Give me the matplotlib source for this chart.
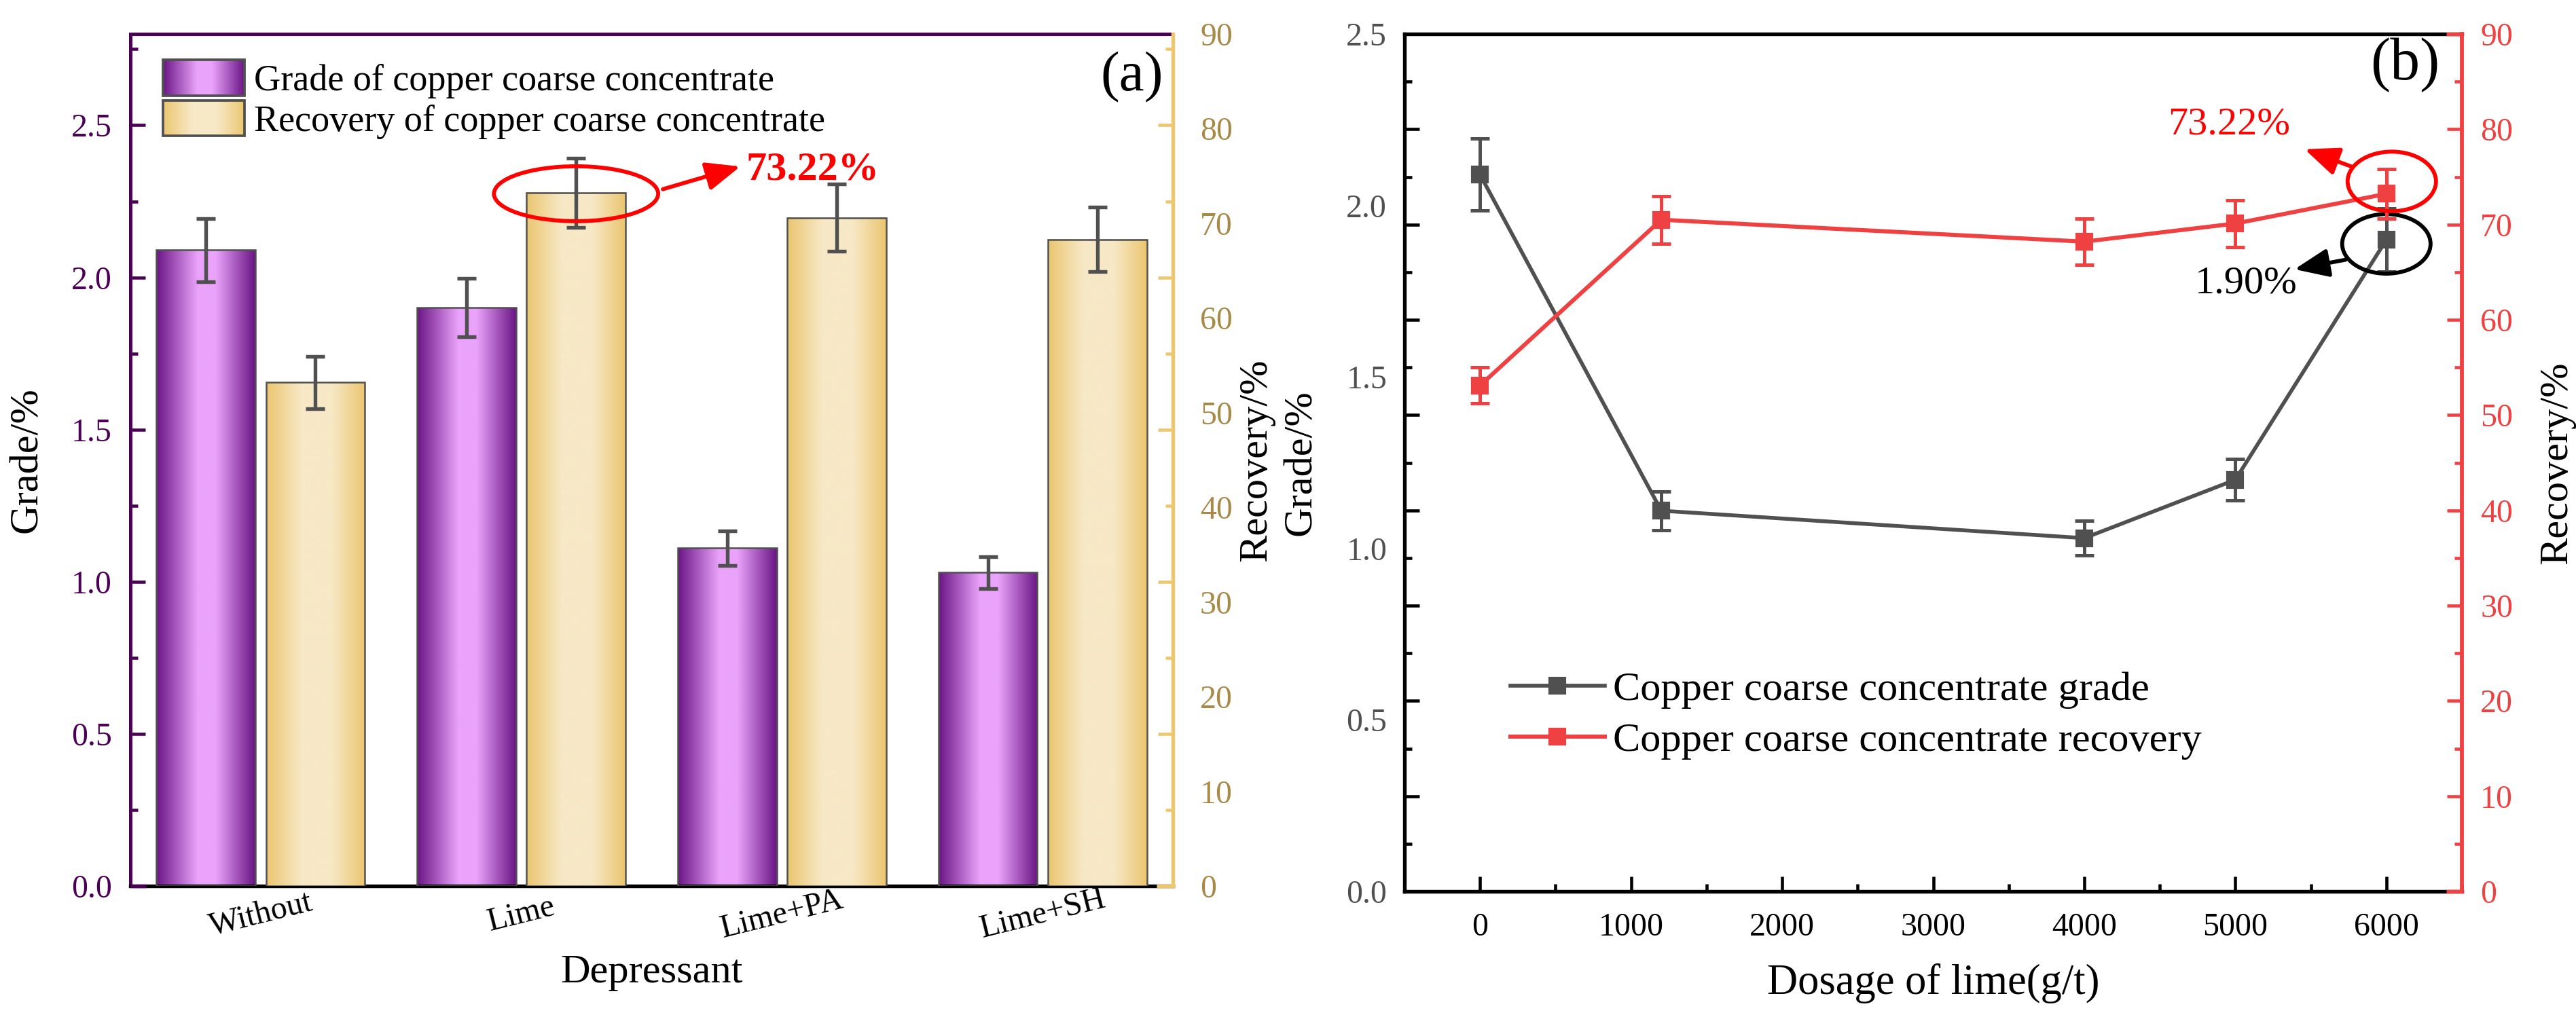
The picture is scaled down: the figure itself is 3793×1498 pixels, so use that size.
import numpy as np
import matplotlib
matplotlib.use("Agg")
import matplotlib.pyplot as plt
from matplotlib.colors import LinearSegmentedColormap
from matplotlib.patches import Ellipse, Rectangle
from matplotlib.legend_handler import HandlerBase
from matplotlib.ticker import MultipleLocator, FormatStrFormatter

plt.rcParams['font.family'] = ['Liberation Serif', 'DejaVu Serif']

# ---------------- data ----------------
categories = ['Without', 'Lime', 'Lime+PA', 'Lime+SH']
grade_a = [2.09, 1.90, 1.11, 1.03]
grade_a_err = [0.104, 0.096, 0.056, 0.052]
recovery_a = [53.2, 73.22, 70.6, 68.3]
recovery_a_err = [2.75, 3.65, 3.55, 3.4]

dosage = [0, 1200, 4000, 5000, 6000]
grade_b = [2.09, 1.11, 1.03, 1.20, 1.90]
grade_b_err = [0.105, 0.056, 0.051, 0.060, 0.092]
recovery_b = [53.1, 70.5, 68.2, 70.1, 73.22]
recovery_b_err = [1.9, 2.5, 2.4, 2.45, 2.57]

# ---------------- style ----------------
W, H, DPI = 3793, 1498, 300
purple = '#4B0055'
gold_lab = '#A88A48'
yellow = '#EDC76E'
gray = '#505050'
red = '#EF4141'

cm_purple = LinearSegmentedColormap.from_list('pp', [
    (0.0, '#6A1585'), (0.42, '#EAA3FB'), (0.60, '#EAA3FB'), (1.0, '#6A1585')])
cm_yellow = LinearSegmentedColormap.from_list('yy', [
    (0.0, '#EBC670'), (0.36, '#F7E8C6'), (0.66, '#F7E8C6'), (1.0, '#EBC670')])


class GradHandler(HandlerBase):
    def __init__(self, cmap, n=60):
        super().__init__()
        self.cmap = cmap
        self.n = n

    def create_artists(self, legend, orig_handle, xdescent, ydescent,
                       width, height, fontsize, trans):
        arts = []
        for i in range(self.n):
            arts.append(Rectangle((-xdescent + i * width / self.n, -ydescent),
                                  width / self.n * 1.05, height,
                                  facecolor=self.cmap((i + 0.5) / self.n),
                                  edgecolor='none', lw=0, transform=trans))
        arts.append(Rectangle((-xdescent, -ydescent), width, height,
                              facecolor='none', edgecolor=gray, lw=0.9,
                              transform=trans))
        return arts


def px_axes(l, t, r, b):
    return [l / W, 1 - b / H, (r - l) / W, (b - t) / H]


fig = plt.figure(figsize=(W / DPI, H / DPI), dpi=DPI)

# ================= panel (a) =================
axA = fig.add_axes(px_axes(192, 50, 1727, 1305))
axA2 = axA.twinx()
axA3 = axA.twinx()

x = np.arange(len(categories))
bw, off = 0.38, 0.21
grad = np.linspace(0, 1, 256).reshape(1, -1)

bars_g = axA.bar(x - off, grade_a, bw, facecolor='none', edgecolor=gray,
                 lw=0.6, zorder=3, label='Grade of copper coarse concentrate')
for r in bars_g:
    x0, y0, w, h = r.get_x(), r.get_y(), r.get_width(), r.get_height()
    axA.imshow(grad, cmap=cm_purple, extent=[x0, x0 + w, y0, y0 + h],
               aspect='auto', zorder=2, interpolation='bilinear')
axA.errorbar(x - off, grade_a, yerr=grade_a_err, fmt='none', ecolor=gray,
             elinewidth=1.3, capsize=3.3, capthick=1.3, zorder=4)

bars_r = axA2.bar(x + off, recovery_a, bw, facecolor='none', edgecolor=gray,
                  lw=0.6, zorder=3, label='Recovery of copper coarse concentrate')
for r in bars_r:
    x0, y0, w, h = r.get_x(), r.get_y(), r.get_width(), r.get_height()
    axA2.imshow(grad, cmap=cm_yellow, extent=[x0, x0 + w, y0, y0 + h],
                aspect='auto', zorder=2, interpolation='bilinear')
axA2.errorbar(x + off, recovery_a, yerr=recovery_a_err, fmt='none', ecolor=gray,
              elinewidth=1.3, capsize=3.3, capthick=1.3, zorder=4)

axA.set_xlim(-0.5, 3.5)
axA.set_ylim(0, 2.8)
axA2.set_ylim(0, 90)
axA3.set_ylim(0, 2.8)

# spines
for s in ['left', 'top']:
    axA.spines[s].set_color(purple)
    axA.spines[s].set_linewidth(1.2)
axA.spines['bottom'].set_color('black')
axA.spines['bottom'].set_linewidth(1.3)
axA.spines['right'].set_visible(False)
for a in (axA2, axA3):
    for s in a.spines.values():
        s.set_visible(False)
axA2.spines['right'].set_visible(True)
axA2.spines['right'].set_color(yellow)
axA2.spines['right'].set_linewidth(1.3)
axA.plot([0, 0.015], [0, 0], transform=axA.transAxes, color=purple, lw=1.3,
         clip_on=False, solid_capstyle='butt', zorder=6)
axA2.plot([0.9844, 1.0], [0, 0], transform=axA2.transAxes, color=yellow, lw=1.3,
          clip_on=False, solid_capstyle='butt', zorder=6)

# ticks
axA.yaxis.set_major_locator(MultipleLocator(0.5))
axA.yaxis.set_minor_locator(MultipleLocator(0.25))
axA.yaxis.set_major_formatter(FormatStrFormatter('%.1f'))
axA.tick_params(axis='y', which='both', direction='in', color=purple,
                labelcolor=purple, width=1.1, labelsize=11.5, pad=6.5,
                right=False)
axA.tick_params(axis='y', which='major', length=5.3)
axA.tick_params(axis='y', which='minor', length=2.7)
axA.set_xticks(x, categories)
axA.tick_params(axis='x', length=0, labelsize=11.5, pad=10)
for lab in axA.get_xticklabels():
    lab.set_rotation(14)
    lab.set_rotation_mode('anchor')
    lab.set_ha('center')
    lab.set_va('center')

axA2.yaxis.set_major_locator(MultipleLocator(10))
axA2.tick_params(axis='y', length=0, labelcolor=gold_lab, labelsize=11.5, pad=9.6)

axA3.yaxis.set_major_locator(MultipleLocator(0.5))
axA3.yaxis.set_minor_locator(MultipleLocator(0.25))
axA3.tick_params(axis='y', which='both', direction='in', color=yellow,
                 width=1.1, labelright=False)
axA3.tick_params(axis='y', which='major', length=5.3)
axA3.tick_params(axis='y', which='minor', length=2.7)

# labels
axA.set_ylabel('Grade/%', fontsize=14.5, va='center')
axA.yaxis.set_label_coords(-0.099, 0.5)
axA2.set_ylabel('Recovery/%', fontsize=14.5, va='center')
axA2.yaxis.set_label_coords(1.0801, 0.5)
axA.set_xlabel('Depressant', fontsize=14.5, va='center')
axA.xaxis.set_label_coords(0.5, -0.102)

# legend (a)
axA2.legend(handles=[bars_g, bars_r],
            labels=[bars_g.get_label(), bars_r.get_label()],
            handler_map={bars_g: GradHandler(cm_purple),
                         bars_r: GradHandler(cm_yellow)},
            loc='center left', bbox_to_anchor=(0.0313, 0.9231),
            frameon=False, fontsize=13, handlelength=2.22, handleheight=1.11,
            handletextpad=0.26, labelspacing=0.06, borderpad=0,
            borderaxespad=0)

# annotation (a)
axA2.add_patch(Ellipse((x[1] + off, recovery_a[1] - 0.1), 0.63, 5.8, fill=False,
                       edgecolor='red', lw=1.4, zorder=7))
axA2.annotate('', xy=(1.84, 76.0), xytext=(1.543, 73.6),
              arrowprops=dict(arrowstyle='-|>,head_length=0.6,head_width=0.25',
                              color='red', lw=1.4, mutation_scale=17,
                              shrinkA=0, shrinkB=0), zorder=7)
axA2.text(1.861, 75.65, '73.22%', color='red', fontsize=14.5, fontweight='bold',
          ha='left', va='center', zorder=7)
axA2.text(0.991, 0.949, '(a)', transform=axA2.transAxes, fontsize=20,
          ha='right', va='center')

# ================= panel (b) =================
axB = fig.add_axes(px_axes(2068, 50, 3625, 1313))
axB2 = axB.twinx()
axB3 = axB.twinx()

lg, = axB.plot(dosage, grade_b, color=gray, marker='s', ms=5.5, lw=1.35,
               label='Copper coarse concentrate grade', zorder=4)
axB.errorbar(dosage, grade_b, yerr=grade_b_err, fmt='none', ecolor=gray,
             elinewidth=1.2, capsize=3.3, capthick=1.2, zorder=4)
lr, = axB2.plot(dosage, recovery_b, color=red, marker='s', ms=5.5, lw=1.45,
                label='Copper coarse concentrate recovery', zorder=4)
axB2.errorbar(dosage, recovery_b, yerr=recovery_b_err, fmt='none', ecolor=red,
              elinewidth=1.2, capsize=3.3, capthick=1.2, zorder=4)

axB.set_xlim(-500, 6500)
axB.set_ylim(0, 2.5)
axB2.set_ylim(0, 90)
axB3.set_ylim(0, 90)

for s in ['left', 'top', 'bottom']:
    axB.spines[s].set_color('black')
    axB.spines[s].set_linewidth(1.3)
axB.spines['right'].set_visible(False)
for a in (axB2, axB3):
    for s in a.spines.values():
        s.set_visible(False)
axB2.spines['right'].set_visible(True)
axB2.spines['right'].set_color(red)
axB2.spines['right'].set_linewidth(1.4)
for yy in (0, 1):
    axB2.plot([0.9852, 1.0], [yy, yy], transform=axB2.transAxes, color=red,
              lw=1.3, clip_on=False, solid_capstyle='butt', zorder=6)

axB.xaxis.set_major_locator(MultipleLocator(1000))
axB.xaxis.set_minor_locator(MultipleLocator(500))
axB.tick_params(axis='x', which='both', direction='in', color='black', width=1.1,
                labelsize=11.5, pad=7.5, top=False)
axB.tick_params(axis='x', which='major', length=5.3)
axB.tick_params(axis='x', which='minor', length=2.7)
axB.yaxis.set_major_locator(MultipleLocator(0.5))
axB.yaxis.set_major_formatter(FormatStrFormatter('%.1f'))
axB.tick_params(axis='y', length=0, labelcolor=gray, labelsize=11.5, pad=6.2)

axB2.yaxis.set_major_locator(MultipleLocator(10))
axB2.yaxis.set_minor_locator(MultipleLocator(5))
axB2.tick_params(axis='y', which='both', direction='in', color=red,
                 labelcolor=red, width=1.1, labelsize=11.5, pad=6.5)
axB2.tick_params(axis='y', which='major', length=5.3)
axB2.tick_params(axis='y', which='minor', length=2.7)

axB3.yaxis.tick_left()
axB3.yaxis.set_major_locator(MultipleLocator(10))
axB3.yaxis.set_minor_locator(MultipleLocator(5))
axB3.tick_params(axis='y', which='both', direction='in', color='black',
                 width=1.1, labelleft=False, labelright=False)
axB3.tick_params(axis='y', which='major', length=5.3)
axB3.tick_params(axis='y', which='minor', length=2.7)

axB.set_ylabel('Grade/%', fontsize=14.5, va='center')
axB.yaxis.set_label_coords(-0.0976, 0.5)
axB2.set_ylabel('Recovery/%', fontsize=14.5, va='center')
axB2.yaxis.set_label_coords(1.090, 0.5)
axB.set_xlabel('Dosage of lime(g/t)', fontsize=15, va='center')
axB.xaxis.set_label_coords(0.5, -0.107)

axB2.legend(handles=[lg, lr], loc='center left', bbox_to_anchor=(0.100, 0.205),
            frameon=False, fontsize=14.5, handlelength=2.3, handletextpad=0.2,
            borderpad=0, borderaxespad=0, labelspacing=0.33)

# annotations (b)
axB2.add_patch(Ellipse((dosage[-1] + 36, recovery_b[-1] + 1.3), 585, 6.25,
                       fill=False, edgecolor='red', lw=1.4, zorder=7))
axB2.annotate('', xy=(5459, 77.9), xytext=(5766, 76.1),
              arrowprops=dict(arrowstyle='-|>,head_length=0.6,head_width=0.25',
                              color='red', lw=1.4, mutation_scale=17,
                              shrinkA=0, shrinkB=0), zorder=7)
axB2.text(4960, 80.5, '73.22%', color='red', fontsize=14, ha='center',
          va='center', zorder=7)

axB.add_patch(Ellipse((dosage[-1], grade_b[-1] - 0.012), 585, 6.25 / 36,
                      fill=False, edgecolor='black', lw=1.4, zorder=7))
axB.annotate('', xy=(5392, 65.3 / 36), xytext=(5730, 66.3 / 36),
             arrowprops=dict(arrowstyle='-|>,head_length=0.6,head_width=0.25',
                             color='black', lw=1.4, mutation_scale=17,
                             shrinkA=0, shrinkB=0), zorder=7)
axB.text(5072, 63.8 / 36, '1.90%', color='black', fontsize=14, ha='center',
         va='center', zorder=7)
axB2.text(0.979, 0.964, '(b)', transform=axB2.transAxes, fontsize=21,
          ha='right', va='center')

fig.savefig('out.png', dpi=DPI)
